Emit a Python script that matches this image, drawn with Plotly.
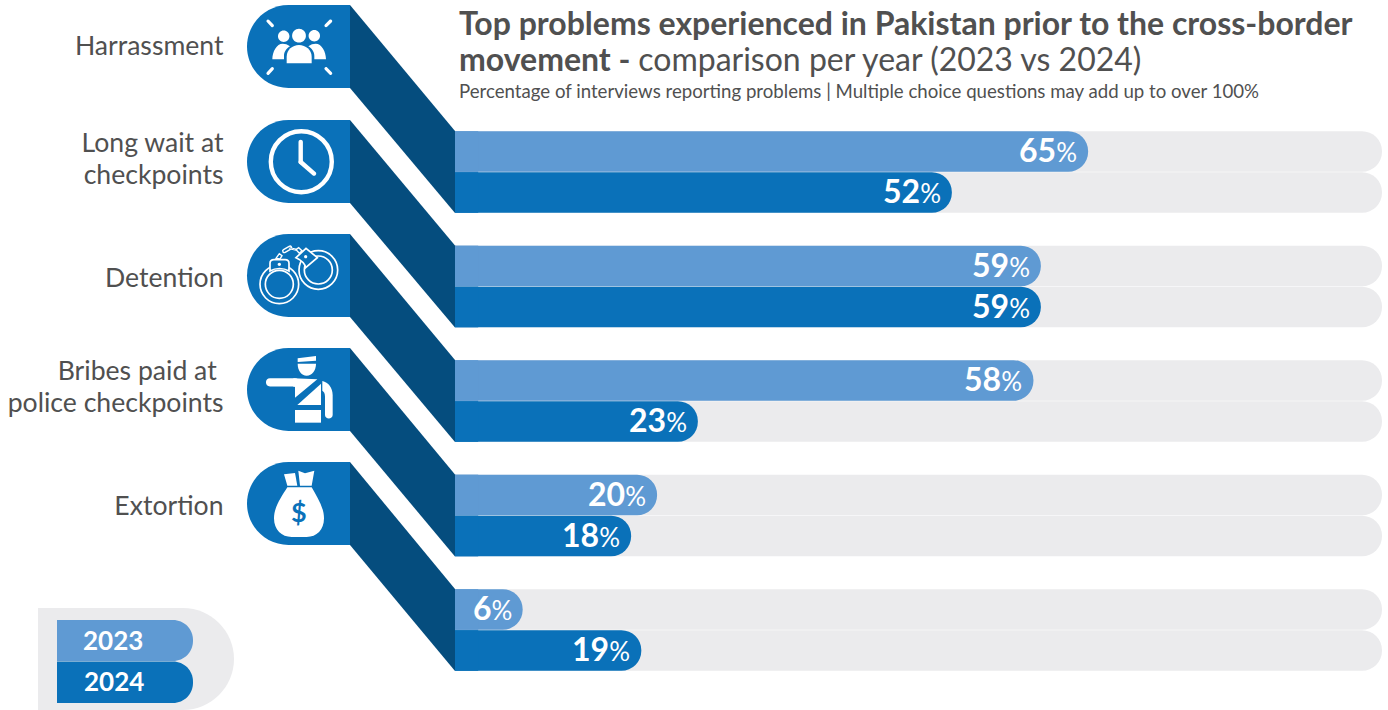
import plotly.graph_objects as go

# ---------- data ----------
categories = ["Harrassment", "Long wait at<br>checkpoints", "Detention",
              "Bribes paid at\u00a0<br>police checkpoints", "Extortion"]
series_names = ["2023", "2024"]
labels_2023 = [65, 59, 58, 20, 6]
labels_2024 = [52, 59, 23, 18, 19]
# drawn bar lengths, as % of the grey track
# (the reference's bars are not strictly proportional to their printed labels)
lengths_2023 = [68.3, 63.2, 62.4, 21.8, 7.3]
lengths_2024 = [53.6, 63.2, 26.2, 19.0, 20.1]
track_full = [100, 100, 100, 100, 100]

# ---------- style / layout constants ----------
W, H = 1388, 710
BAR_X0, BAR_X1 = 455, 1382
PX_PER_PCT = (BAR_X1 - BAR_X0) / 100
BAR_RANGE = [-BAR_X0 / PX_PER_PCT, (W - BAR_X0) / PX_PER_PCT]
ROW = 41
GROUP_TOP = [131, 245.5, 360, 474.5, 589]
PILL_TOP = [5, 120, 234, 348, 462]
LABEL_Y = [48.5, 161.5, 280.5, 389.5, 508.5]
LABEL_LINE = 32
PILL_H = 83
PILL_X0, PILL_X1 = 247, 350
LIGHT, BLUE, DARK, TRACK, GREY = "#5F9AD3", "#0A71B9", "#054D7E", "#EBEBED", "#505050"
WHITE = "#FFFFFF"
FONT = "Lato"
K = 0.5523


def rounded_right(x0, y0, x1, y1, r):
    c = r * (1 - K)
    return (f"M{x0},{y0} L{x1-r},{y0} C{x1-c},{y0} {x1},{y0+c} {x1},{y0+r} "
            f"L{x1},{y1-r} C{x1},{y1-c} {x1-c},{y1} {x1-r},{y1} L{x0},{y1} Z")


def rounded_left(x0, y0, x1, y1, r):
    c = r * (1 - K)
    return (f"M{x1},{y0} L{x0+r},{y0} C{x0+c},{y0} {x0},{y0+c} {x0},{y0+r} "
            f"L{x0},{y1-r} C{x0},{y1-c} {x0+c},{y1} {x0+r},{y1} L{x1},{y1} Z")


def disc(cx, cy, r):
    c = r * K
    return (f"M{cx-r},{cy} C{cx-r},{cy-c} {cx-c},{cy-r} {cx},{cy-r} "
            f"C{cx+c},{cy-r} {cx+r},{cy-c} {cx+r},{cy} "
            f"C{cx+r},{cy+c} {cx+c},{cy+r} {cx},{cy+r} "
            f"C{cx-c},{cy+r} {cx-r},{cy+c} {cx-r},{cy} Z")


def capsule(x1, y1, x2, y2, w):
    dx, dy = x2 - x1, y2 - y1
    n = (dx * dx + dy * dy) ** 0.5
    ux, uy = dx / n, dy / n
    px, py = -uy * w / 2, ux * w / 2
    ax, ay = ux * w * 0.66, uy * w * 0.66
    return (f"M{x1+px},{y1+py} L{x2+px},{y2+py} "
            f"C{x2+px+ax},{y2+py+ay} {x2-px+ax},{y2-py+ay} {x2-px},{y2-py} "
            f"L{x1-px},{y1-py} C{x1-px-ax},{y1-py-ay} {x1+px-ax},{y1+py-ay} {x1+px},{y1+py} Z")


def zp(ox, oy, text):
    """path written in zoomed-crop coordinates -> page pixels (crop was 3x)."""
    out = []
    for tok in text.split():
        if "," in tok:
            cmd = tok[0] if tok[0].isalpha() else ""
            a, b = tok.lstrip("MLC").split(",")
            out.append(f"{cmd}{float(a)/3+ox:.2f},{float(b)/3+oy:.2f}")
        else:
            out.append(tok)
    return " ".join(out)


shapes = []


def fill(path, color=WHITE):
    shapes.append(dict(type="path", path=path, xref="x2", yref="y", fillcolor=color,
                       line=dict(width=0), layer="above"))


def stroke(path, width=1.6, fillc=BLUE, color=WHITE):
    shapes.append(dict(type="path", path=path, xref="x2", yref="y", fillcolor=fillc,
                       line=dict(width=width, color=color), layer="above"))


# bands and pills
for top, bar_top in zip(PILL_TOP, GROUP_TOP):
    fill(f"M{PILL_X1},{top} L{BAR_X0},{bar_top} L{BAR_X0},{bar_top+2*ROW} L{PILL_X1},{top+PILL_H} Z", DARK)
    fill(rounded_left(PILL_X0, top, PILL_X1, top + PILL_H, PILL_H / 2), BLUE)

# icon 1: people
for c in [(283.7, 36.3, 5.7), (314.3, 35.7, 5.7), (299, 35.7, 6.9)]:
    fill(disc(*c))
fill(zp(240, 0, "M140,190 L215,190 L215,170 C215,150 197,135 177,135 C157,135 140,150 140,170 Z"))
fill(zp(240, 0, "M97,178 L132,178 L132,168 C132,155 140,145 150,139 C143,133 135,131 128,131 C110,131 97,155 97,178 Z"))
fill(zp(240, 0, "M258,178 L223,178 L223,168 C223,155 215,145 205,139 C212,133 220,131 227,131 C245,131 258,155 258,178 Z"))
for a in [(84, 63, 97, 77), (272, 63, 258, 77), (84, 220, 97, 206), (272, 220, 258, 206)]:
    fill(capsule(a[0] / 3 + 240, a[1] / 3, a[2] / 3 + 240, a[3] / 3, 3.2))

# icon 2: clock
shapes.append(dict(type="circle", xref="x2", yref="y", x0=270.8, x1=331.8, y0=131.2, y1=192.2,
                   line=dict(color=WHITE, width=4.4), fillcolor=BLUE, layer="above"))
fill(capsule(300.7, 142, 300.7, 162, 4.4))
fill(capsule(300.7, 162, 314, 173.6, 4.4))

# icon 3: handcuffs
for (cx, cy) in [(235, 135), (118, 178)]:
    stroke(zp(240, 225, disc(cx, cy, 58)), 1.7)
    stroke(zp(240, 225, disc(cx, cy, 42)), 1.7)
stroke(zp(240, 225, "M90,138 L90,115 C90,108 95,104 102,104 L135,104 C142,104 147,108 147,115 L147,138 C130,128 107,128 90,138 Z"), 1.7)
fill(disc(240 + 118 / 3, 225 + 118 / 3, 1.7))
stroke(zp(240, 225, "M168,98 L198,70 L232,98 L197,128 C195,116 183,105 168,98 Z"), 1.7)
fill(disc(240 + 197 / 3, 225 + 95 / 3, 1.6))
stroke(zp(240, 225, "M108,100 L118,86 L126,92 L120,102 Z"), 1.4)
stroke(capsule(240 + 133 / 3, 225 + 78 / 3, 240 + 150 / 3, 225 + 68 / 3, 3.2), 1.4)
stroke(capsule(240 + 150 / 3, 225 + 70 / 3, 240 + 168 / 3, 225 + 74 / 3, 1.2), 1.0)
stroke(zp(240, 225, "M168,74 L176,68 L186,77 L178,85 Z"), 1.4)

# icon 4: officer
fill(zp(240, 225, "M173,400 L228,393 L228,407 L173,411 Z"))
fill(zp(240, 225, "M173,416 L228,416 C228,436 216,452 200,452 C184,452 173,436 173,416 Z"))
fill(capsule(240 + 90 / 3, 225 + 472 / 3, 240 + 165 / 3, 225 + 472 / 3, 8.2))
fill(zp(240, 225, "M160,460 L232,463 L165,518 L165,485 L160,485 Z"))
fill(zp(240, 225, "M172,540 L243,476 L243,540 Z"))
fill(zp(240, 225, "M165,555 L243,555 L243,593 L165,593 Z"))
fill(zp(240, 225, "M247,468 C265,472 278,488 278,510 L278,570 C278,584 255,584 255,570 L255,515 C255,505 252,500 247,497 Z"))

# icon 5: money bag
fill(zp(0, 455, "M862,97 L935,97 C950,125 972,155 972,190 C972,225 950,246 920,246 L875,246 C845,246 822,225 822,190 C822,155 845,125 862,97 Z"))
fill(zp(0, 455, "M852,58 L885,54 L892,92 L862,92 Z"))
fill(zp(0, 455, "M895,47 L915,55 L943,47 L935,92 L900,92 Z"))

# legend panel and swatches
shapes.insert(0, dict(type="path", xref="x2", yref="y", fillcolor=TRACK, line=dict(width=0), layer="below",
                      path="M38,608 L183,608 C211,608 234,631 234,659 C234,687 211,710 183,710 L38,710 Z"))
fill(rounded_right(57, 620, 193, 661, 20), LIGHT)
fill(rounded_right(57, 661.5, 193, 703, 20), BLUE)

# ---------- traces ----------
fig = go.Figure()
y_2023 = [t + ROW / 2 for t in GROUP_TOP]
y_2024 = [t + ROW * 1.5 for t in GROUP_TOP]
PATCH = 2.5  # square-off for the left end of each rounded bar


def add_bar(name, x, y, color, radius, axis):
    fig.add_trace(go.Bar(name=name, x=x, y=y, orientation="h", width=ROW - 0.4, xaxis=axis, yaxis="y",
                         marker=dict(color=color, cornerradius=radius, line=dict(width=0)),
                         hoverinfo="skip", showlegend=False))


# each series sits on its own x axis (same range) so plotly rounds each bar's own end
add_bar("track", track_full * 2, y_2023 + y_2024, TRACK, 20, "x")
add_bar("track left", [PATCH] * 10, y_2023 + y_2024, TRACK, 0, "x")
add_bar(series_names[0], lengths_2023, y_2023, LIGHT, 20, "x3")
add_bar("2023 left", [PATCH] * 5, y_2023, LIGHT, 0, "x3")
add_bar(series_names[1], lengths_2024, y_2024, BLUE, 20, "x4")
add_bar("2024 left", [PATCH] * 5, y_2024, BLUE, 0, "x4")

# category labels on the page-pixel axes, one text per line for the tighter leading
label_text, label_y = [], []
for cat, cy in zip(categories, LABEL_Y):
    lines = cat.split("<br>")
    for i, line in enumerate(lines):
        label_text.append(line)
        label_y.append(cy + (i - (len(lines) - 1) / 2) * LABEL_LINE)
fig.add_trace(go.Scatter(x=[223.5] * len(label_text), y=label_y, xaxis="x2", yaxis="y",
                         mode="text", text=label_text, textposition="middle left",
                         textfont=dict(family=FONT, size=26.6, color=GREY),
                         hoverinfo="skip", showlegend=False))

annotations = []


def value_note(val, length, y):
    annotations.append(dict(
        x=length, y=y, xref="x", yref="y", xanchor="right", yanchor="middle", xshift=-9, yshift=2, showarrow=False,
        text=f'<span style="font-size:32px;font-weight:bold">{val}</span>%',
        font=dict(family=FONT, size=26, color=WHITE)))


for v, l, y in zip(labels_2023, lengths_2023, y_2023):
    value_note(v, l, y)
for v, l, y in zip(labels_2024, lengths_2024, y_2024):
    value_note(v, l, y)

annotations.append(dict(x=459, y=58, xref="x2", yref="y", xanchor="left", yanchor="middle", showarrow=False,
                        xshift=-2, text="<b>movement - </b>comparison per year (2023 vs 2024)",
                        font=dict(family=FONT, size=32, color=GREY)))
annotations.append(dict(x=459, y=91, xref="x2", yref="y", xanchor="left", yanchor="middle", showarrow=False,
                        xshift=-2,
                        text="Percentage of interviews reporting problems | Multiple choice questions may add up to over 100%",
                        font=dict(family=FONT, size=18.65, color=GREY)))
for name, cx, cy in [(series_names[0], 113, 640), (series_names[1], 114, 681)]:
    annotations.append(dict(x=cx, y=cy, xref="x2", yref="y", showarrow=False, text=f"<b>{name}</b>",
                            font=dict(family=FONT, size=26, color=WHITE)))
annotations.append(dict(x=298.5, y=455 + 169 / 3, xref="x2", yref="y", showarrow=False, text="<b>$</b>",
                        font=dict(family=FONT, size=27, color=BLUE)))

hidden = dict(visible=False, fixedrange=True)
fig.update_layout(
    width=W, height=H, autosize=False, margin=dict(l=0, r=0, t=0, b=0, pad=0),
    paper_bgcolor=WHITE, plot_bgcolor=WHITE, barmode="overlay", dragmode=False, showlegend=False,
    font=dict(family=FONT, color=GREY),
    title=dict(
        text="<b>Top problems experienced in Pakistan prior to the cross-border</b>",
        x=459 / W, xanchor="left", xref="paper", y=1 - 24 / H, yanchor="middle", yref="paper",
        font=dict(family=FONT, size=32, color=GREY), pad=dict(l=0, r=0, t=0, b=0)),
    xaxis=dict(domain=[0, 1], range=BAR_RANGE, **hidden),
    xaxis2=dict(range=[0, W], overlaying="x", anchor="y", **hidden),
    xaxis3=dict(range=BAR_RANGE, overlaying="x", anchor="y", **hidden),
    xaxis4=dict(range=BAR_RANGE, overlaying="x", anchor="y", **hidden),
    yaxis=dict(domain=[0, 1], range=[H, 0], **hidden),
    shapes=shapes, annotations=annotations,
)

fig.write_html("out.html", config={"displayModeBar": False},
               post_script="document.body.style.margin='0';")
